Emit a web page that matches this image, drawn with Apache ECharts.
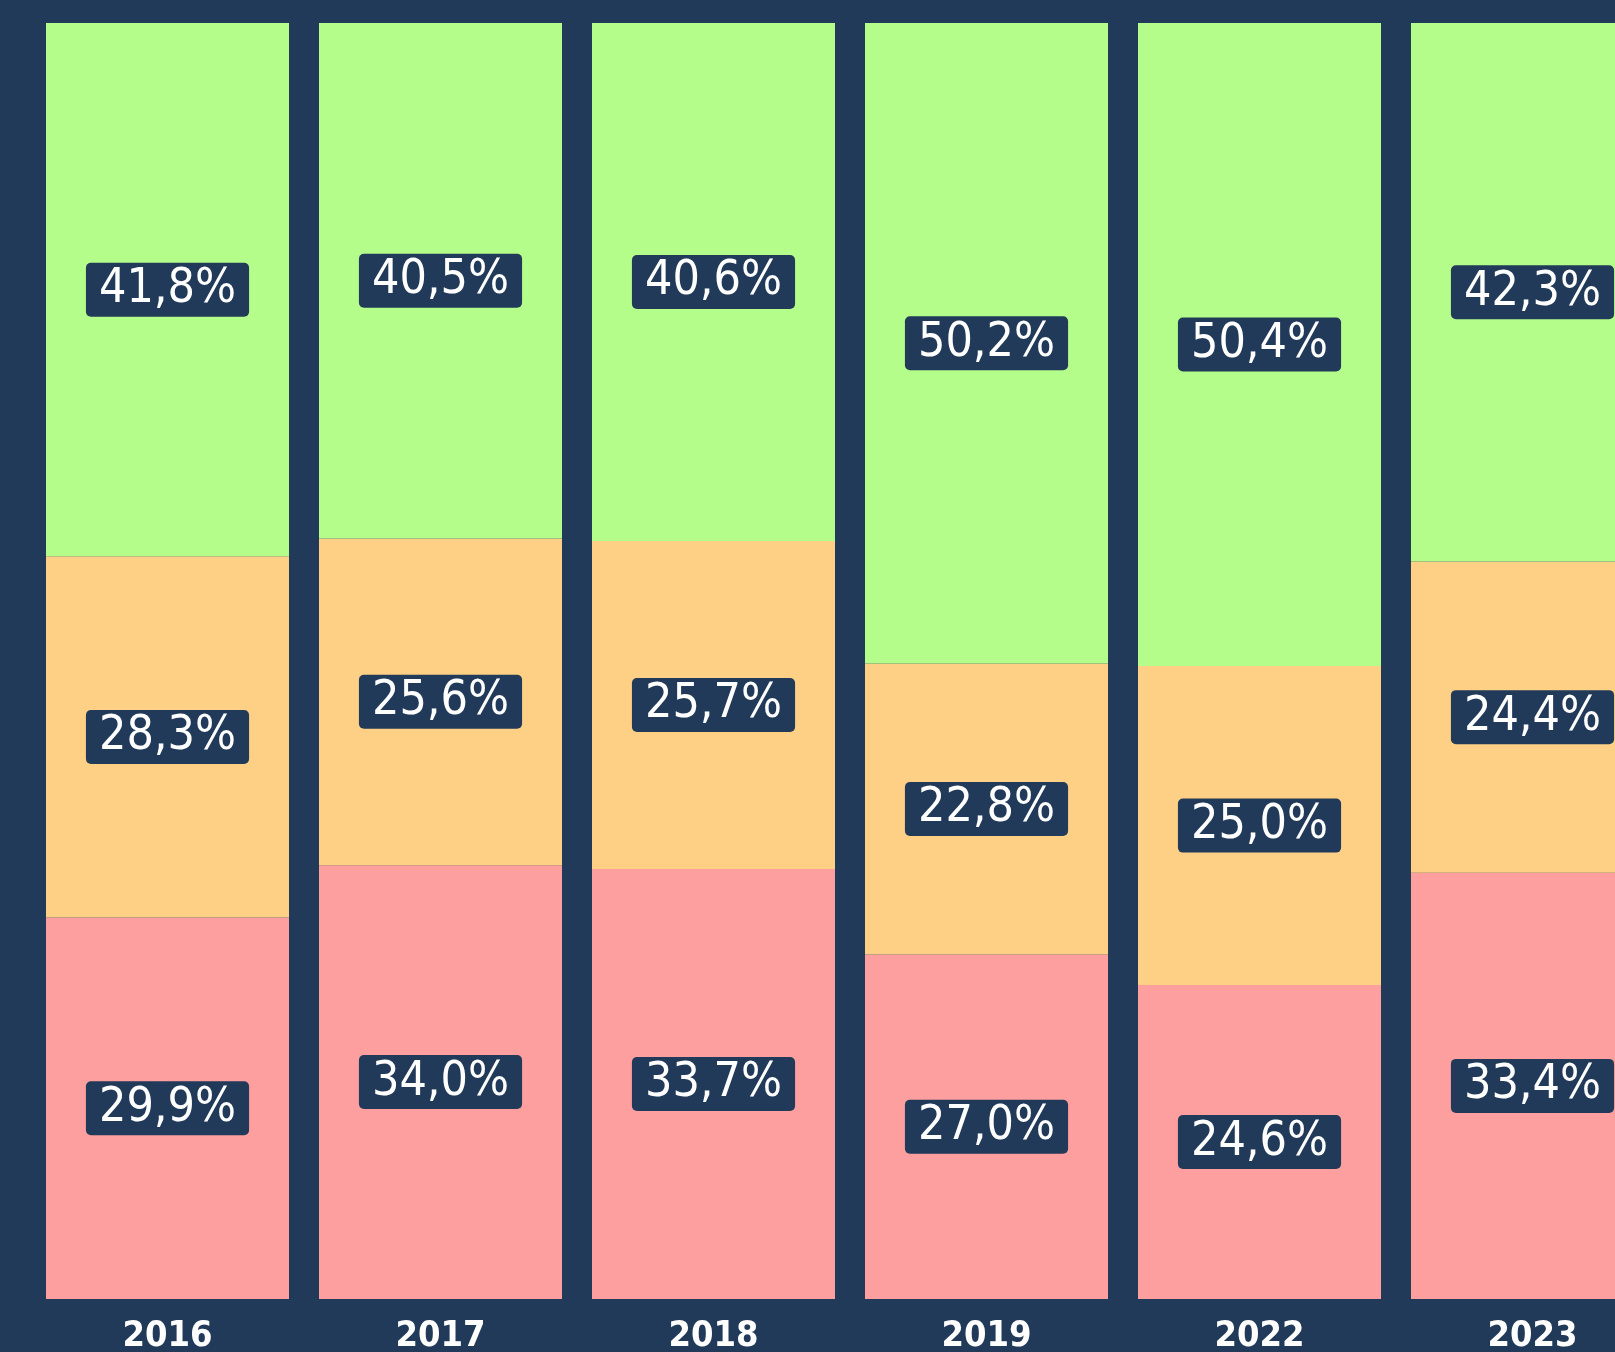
<!DOCTYPE html>
<html>
<head>
<meta charset="utf-8">
<script src="https://cdn.jsdelivr.net/npm/echarts@6/dist/echarts.min.js"></script>
<style>
  html, body { margin: 0; padding: 0; background: #213a59; }
  #main { width: 1615px; height: 1352px; }
</style>
</head>
<body>
<div id="main"></div>
<script>
// years and the three shares (bottom to top: red, orange, green)
var years = ['2016', '2017', '2018', '2019', '2022', '2023'];
var redShare = [29.9, 34.0, 33.7, 27.0, 24.6, 33.4];
var orangeShare = [28.3, 25.6, 25.7, 22.8, 25.0, 24.4];
var greenShare = [41.8, 40.5, 40.6, 50.2, 50.4, 42.3];

var navy = '#213a59';

function fmt(p) {
  return p.value.toFixed(1).replace('.', ',') + '%';
}

var labelStyle = {
  show: true,
  position: 'inside',
  formatter: fmt,
  color: '#ffffff',
  fontFamily: '"DejaVu Sans Condensed", "DejaVu Sans", sans-serif',
  fontSize: 48,
  lineHeight: 48,
  backgroundColor: navy,
  borderRadius: 5,
  padding: [3, 13, 3, 13]
};

function makeSeries(name, values, color) {
  return {
    name: name,
    type: 'bar',
    stack: 'total',
    data: values,
    barWidth: 243,
    itemStyle: { color: color },
    label: labelStyle,
    emphasis: { disabled: true }
  };
}

var chart = echarts.init(document.getElementById('main'));
chart.setOption({
  backgroundColor: navy,
  animation: false,
  grid: { left: 31, right: -54, top: 23, bottom: 53, outerBoundsMode: 'none', containLabel: false },
  xAxis: {
    type: 'category',
    data: years,
    axisLine: { show: false },
    axisTick: { show: false },
    axisLabel: {
      color: '#ffffff',
      fontWeight: 'bold',
      fontFamily: '"DejaVu Sans Condensed", "DejaVu Sans", sans-serif',
      fontSize: 36,
      margin: 20
    }
  },
  yAxis: {
    type: 'value',
    min: 0,
    max: 100,
    show: false
  },
  series: [
    makeSeries('red', redShare, '#fd9f9f'),
    makeSeries('orange', orangeShare, '#fdd086'),
    makeSeries('green', greenShare, '#b5fd8a')
  ]
});
</script>
</body>
</html>
